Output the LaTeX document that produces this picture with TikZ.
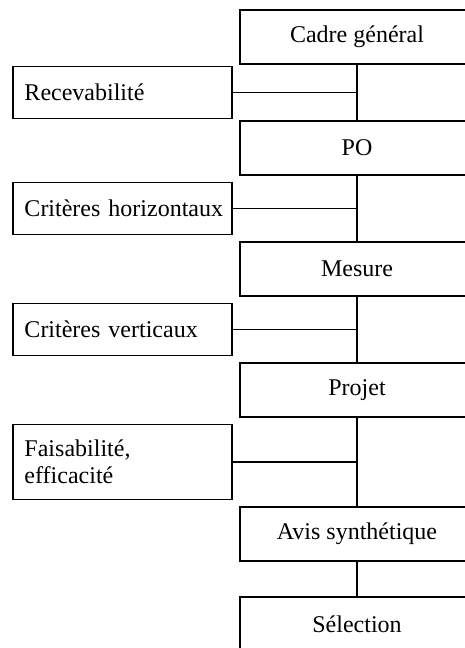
\documentclass[tikz,border=0pt]{standalone}
\usepackage{fontspec}
\setmainfont{Liberation Serif}
\usetikzlibrary{positioning,calc}

\begin{document}
\begin{tikzpicture}[
    rbox/.style={rectangle, draw=black, line width=0.7pt, outer sep=0pt,
        minimum width=117pt, minimum height=27pt, inner sep=0pt,
        font=\fontsize{12pt}{13.5pt}\selectfont},
    lbox/.style={rectangle, draw=black, line width=0.7pt, outer sep=0pt,
        text width=98pt, inner xsep=5.75pt, inner ysep=0pt, align=left,
        minimum height=26pt, font=\fontsize{12pt}{13.5pt}\selectfont},
    link/.style={line width=0.7pt}]
    \useasboundingbox (0,0) rectangle (232.5pt,-324pt);
    \clip (0,0) rectangle (232.5pt,-324pt);

    % Main column
    \node[rbox] (cadre) at (178.5pt,-18.5pt) {Cadre général};
    \node[rbox] (po) [below=28.5pt of cadre] {PO};
    \node[rbox] (mesure) [below=33.5pt of po] {Mesure};
    \node[rbox] (projet) [below=33.5pt of mesure] {Projet};
    \node[rbox] (avis) [below=45pt of projet] {Avis synthétique};
    \node[rbox] (selection) [below=18pt of avis] {Sélection};

    % Side criteria
    \coordinate (g1) at ($(cadre.south)!0.5!(po.north)$);
    \coordinate (g2) at ($(po.south)!0.5!(mesure.north)$);
    \coordinate (g3) at ($(mesure.south)!0.5!(projet.north)$);
    \coordinate (g4) at ($(projet.south)!0.5!(avis.north)$);
    \node[lbox] (recev) [left=62.5pt of g1] {Recevabilité};
    \node[lbox] (horiz) [left=62.5pt of g2] {\mbox{Critères horizontaux}};
    \node[lbox] (vert) [left=62.5pt of g3] {Critères verticaux};
    \node[lbox, minimum height=37.5pt] (faisab) [left=62.5pt of g4] {Faisabilité,\\efficacité};

    % Lines
    \draw[link] (cadre) -- (po);
    \draw[link] (po) -- (mesure);
    \draw[link] (mesure) -- (projet);
    \draw[link] (projet) -- (avis);
    \draw[link] (avis) -- (selection);

    \draw[link] (recev.east) -- (recev.east -| cadre.south);
    \draw[link] (horiz.east) -- (horiz.east -| po.south);
    \draw[link] (vert.east) -- (vert.east -| mesure.south);
    \draw[link] (faisab.east) -- (faisab.east -| projet.south);
\end{tikzpicture}
\end{document}
